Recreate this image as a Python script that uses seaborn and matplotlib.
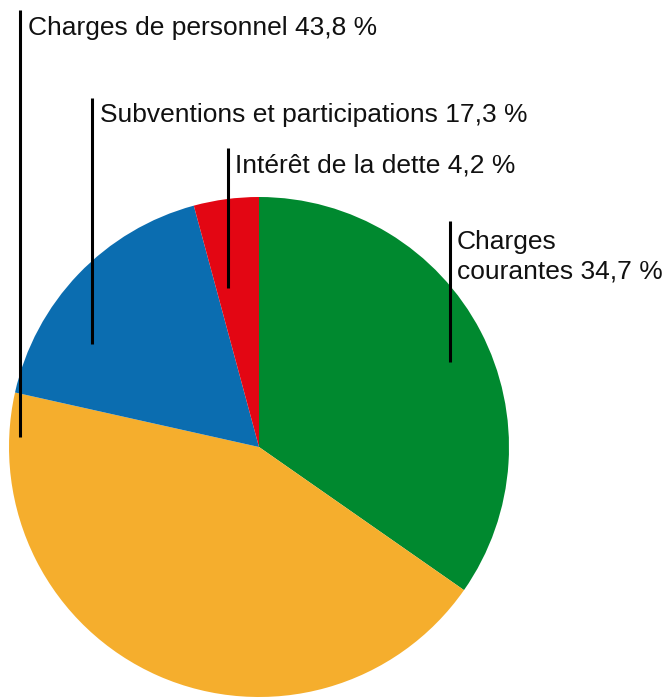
import matplotlib
matplotlib.use("Agg")
import matplotlib.pyplot as plt
import seaborn as sns

sns.set_theme(style="white")
plt.rcParams['font.family'] = ['Liberation Sans', 'DejaVu Sans']

# données (ordre horaire depuis le haut)
categories = ["Charges\ncourantes", "Charges de personnel",
              "Subventions et participations", "Intérêt de la dette"]
parts = [34.7, 43.8, 17.3, 4.2]
colors = ["#00892f", "#f5ae2d", "#0b6db0", "#e30613"]

# positions des étiquettes (pixels, origine en haut à gauche)
# x ligne, y haut ligne, y bas ligne, x texte, y ligne de base (dernière ligne)
label_pos = [
    (450, 221, 362, 457, 278),
    (20, 10, 437, 28, 35),
    (92, 98, 344, 100, 122),
    (228, 148, 288, 235, 173),
]

W, H = 667, 698
fig = plt.figure(figsize=(W / 100, H / 100), dpi=100)
ax = fig.add_axes([0, 0, 1, 1])

ax.pie(parts, colors=colors, startangle=90, counterclock=False,
       center=(259, H - 447), radius=250, frame=True,
       wedgeprops=dict(linewidth=0))
ax.set_xlim(0, W)
ax.set_ylim(0, H)
ax.set_aspect("equal")
ax.axis("off")

for cat, val, (lx, y0, y1, tx, ty) in zip(categories, parts, label_pos):
    ax.plot([lx, lx], [H - y0, H - y1], color="black", lw=2.2, solid_capstyle="butt")
    txt = f"{cat} {val:.1f} %".replace(".", ",")
    ax.text(tx, H - ty, txt, fontsize=19, color="#111111", va="baseline", ha="left",
            linespacing=1.25)

fig.savefig("out.png", dpi=100)
